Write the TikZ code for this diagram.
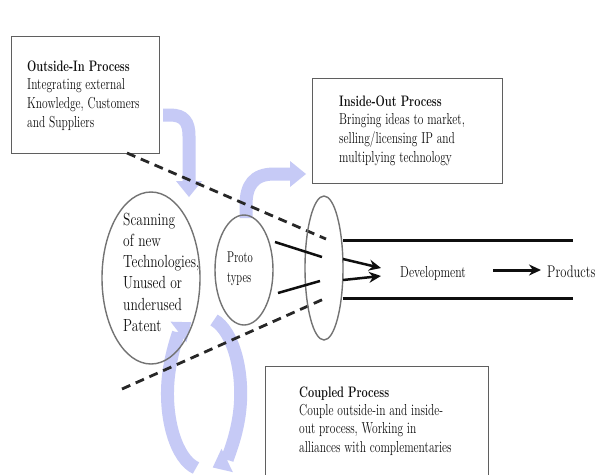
\documentclass[tikz,border=0pt]{standalone}
\usepackage{graphicx}
\usetikzlibrary{arrows.meta,shapes.geometric}
\definecolor{lav}{RGB}{198,202,246}
\definecolor{rim}{RGB}{115,115,115}
\definecolor{frame}{RGB}{95,95,95}
\definecolor{ink}{RGB}{15,15,15}
% stretched multi-line text block: #1 vertical scale, #2 font, #3 lines
\newcommand{\tallcol}[3]{\scalebox{1}[#1]{#2\begin{tabular}[t]{@{}l@{}}#3\end{tabular}}}
\newcommand{\boxfont}{\fontsize{11.5}{13.7}\selectfont}
\newcommand{\boxhead}[1]{\textbf{\fontsize{11}{13.7}\selectfont #1}}
\begin{document}
\begin{tikzpicture}[x=1pt,y=-1pt,
  flow/.style={draw=lav, line width=13pt,
    -{Triangle[width=26pt,length=16pt,line width=0pt,fill=lav,color=lav]}},
  panel/.style={draw=frame, line width=1.2pt, fill=white, inner sep=0pt, anchor=north west},
  oval/.style={draw=rim, line width=1.4pt, ellipse, inner sep=0pt},
  txt/.style={inner sep=0pt, anchor=base west, text=ink},
  funnel/.style={draw=ink!90, line width=2.8pt, dash pattern=on 9pt off 6pt},
  feed/.style={draw=ink, line width=2.5pt},
  rail/.style={draw=ink, line width=3pt},
  push/.style={draw=ink, line width=2.5pt, -{Stealth[length=12pt,width=11pt]}}]
\useasboundingbox (0,0) rectangle (601,474);
\clip (0,0) rectangle (601,474);
\fill[white] (0,0) rectangle (601,474);

% light flow arrows
\coordinate (oiA) at (163,115);
\coordinate (oiB) at (189,197);
\draw[flow] (oiA) -- (170,115) .. controls (184,115) and (189,122) .. (189,136) -- (oiB);
\coordinate (ioA) at (246,218);
\coordinate (ioB) at (306,174);
\draw[flow] (ioA) -- (246,205) .. controls (246,185) and (254,174) .. (274,174) -- (ioB);
% coupled cycle: two arcs round one ellipse, centre (205,393)
\coordinate (cyL) at (196,468);
\coordinate (cyR) at (214,320);
\draw[flow] (cyL) arc[start angle=102, end angle=250, x radius=36, y radius=76];
\draw[flow] (cyR) arc[start angle=285, end angle=437, x radius=36, y radius=76];

% text panels
\node[panel, minimum width=148pt, minimum height=117pt] (outbox) at (11,36) {};
\node[panel, minimum width=190pt, minimum height=105pt] (inbox) at (312,78) {};
\node[panel, minimum width=223pt, minimum height=130pt] (cpbox) at (265,366) {};

\node[txt] (outtxt) at (27,71) {\tallcol{1.38}{\boxfont}{\boxhead{Outside-In Process}\\
  Integrating external\\ Knowledge, Customers\\ and Suppliers}};
\node[txt] (intxt) at (339,106) {\tallcol{1.38}{\boxfont}{\boxhead{Inside-Out Process}\\
  Bringing ideas to market,\\ selling/licensing IP and\\ multiplying technology}};
\node[txt] (cptxt) at (299,397) {\tallcol{1.38}{\fontsize{11.5}{13.4}\selectfont}{\boxhead{Coupled Process}\\
  Couple outside-in and inside-\\ out process, Working in\\ alliances with complementaries}};

% funnel
\coordinate (fa) at (127,153);
\coordinate (fb) at (326,239);
\coordinate (fc) at (122,389);
\coordinate (fd) at (326,298);
\draw[funnel] (fa) -- (fb);
\draw[funnel] (fc) -- (fd);

% stages
\node[oval, minimum width=98pt, minimum height=172pt] (scan) at (151,278) {};
\node[oval, minimum width=58pt, minimum height=110pt] (proto) at (244,270) {};
\node[oval, minimum width=38pt, minimum height=144pt] (gate) at (324,268) {};

\node[txt] (scantxt) at (123,225) {\tallcol{1.3}{\fontsize{13.5}{16.4}\selectfont}{Scanning\\ of new\\
  Technologies,\\ Unused or\\ underused\\ Patent}};
\node[txt] (prototxt) at (227,262) {\tallcol{1.5}{\fontsize{10.4}{13.4}\selectfont}{Proto\\ types}};

% prototypes into the gate
\coordinate (pa) at (275,242);
\coordinate (pb) at (322,257);
\coordinate (pc) at (278,293);
\coordinate (pd) at (320,281);
\draw[feed] (pa) -- (pb);
\draw[feed] (pc) -- (pd);

% development channel
\coordinate (ra) at (343,240);
\coordinate (rb) at (573,240);
\coordinate (rc) at (343,298);
\coordinate (rd) at (573,298);
\draw[rail] (ra) -- (rb);
\draw[rail] (rc) -- (rd);

\coordinate (qa) at (343,259);
\coordinate (qb) at (381,268);
\coordinate (qc) at (343,280);
\coordinate (qd) at (381,276);
\draw[push] (qa) -- (qb);
\draw[push] (qc) -- (qd);

\node[txt] (dev) at (400,277) {\scalebox{1}[1.35]{\fontsize{11.8}{13}\selectfont Development}};
\node[txt] (prod) at (547,277) {\scalebox{1}[1.35]{\fontsize{12.5}{13}\selectfont Products}};
\coordinate (da) at (493,270);
\coordinate (db) at (541,270);
\draw[push, line width=3pt] (da) -- (db);
\end{tikzpicture}
\end{document}
